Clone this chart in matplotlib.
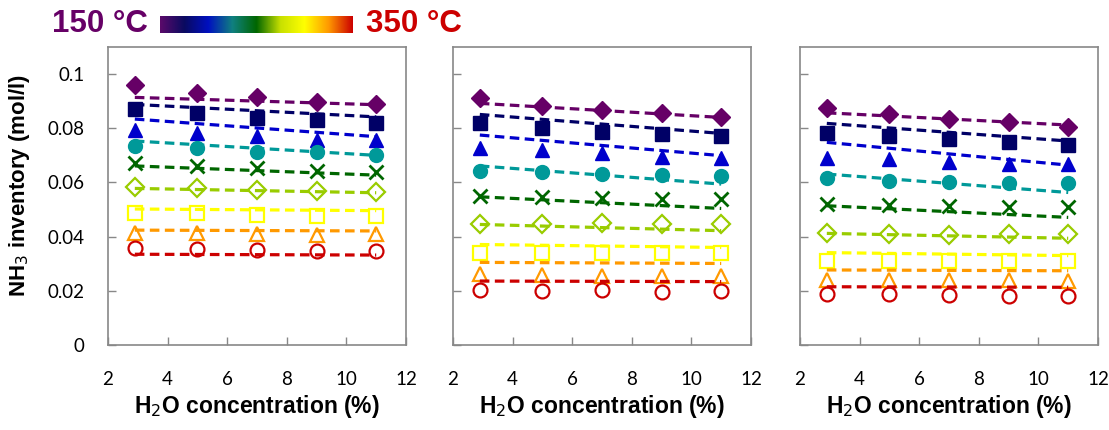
import numpy as np
import matplotlib
matplotlib.use("Agg")
import matplotlib.pyplot as plt
from matplotlib.colors import LinearSegmentedColormap

# ---------------- data ----------------
h2o = [2.9, 5, 7, 9, 11]
line_x = [2.9, 11]
temps = [150, 175, 200, 225, 250, 275, 300, 325, 350]

colors = ["#660066", "#000066", "#0000CC", "#009999", "#006600",
          "#99CC00", "#FFFF00", "#FF9900", "#CC0000"]
markers = ["D", "s", "^", "o", "x", "D", "s", "^", "o"]
filled = [True, True, True, True, True, False, False, False, False]

# measured NH3 inventory (mol/l), one list per temperature, panel 1..3
panel1 = [
    [0.0959, 0.0932, 0.0916, 0.0898, 0.0889],
    [0.0871, 0.0855, 0.0839, 0.0830, 0.0819],
    [0.0793, 0.0781, 0.0771, 0.0756, 0.0755],
    [0.0736, 0.0726, 0.0713, 0.0711, 0.0701],
    [0.0670, 0.0661, 0.0652, 0.0642, 0.0640],
    [0.0584, 0.0578, 0.0572, 0.0570, 0.0563],
    [0.0488, 0.0486, 0.0480, 0.0476, 0.0476],
    [0.0412, 0.0412, 0.0410, 0.0406, 0.0410],
    [0.0357, 0.0353, 0.0351, 0.0348, 0.0348],
]
panel2 = [
    [0.0910, 0.0883, 0.0867, 0.0855, 0.0840],
    [0.0818, 0.0800, 0.0785, 0.0779, 0.0771],
    [0.0726, 0.0720, 0.0707, 0.0695, 0.0691],
    [0.0642, 0.0640, 0.0630, 0.0627, 0.0624],
    [0.0550, 0.0547, 0.0544, 0.0538, 0.0538],
    [0.0447, 0.0445, 0.0449, 0.0447, 0.0447],
    [0.0341, 0.0341, 0.0341, 0.0341, 0.0341],
    [0.0261, 0.0258, 0.0255, 0.0255, 0.0255],
    [0.0203, 0.0199, 0.0203, 0.0197, 0.0199],
]
panel3 = [
    [0.0873, 0.0852, 0.0833, 0.0824, 0.0803],
    [0.0784, 0.0771, 0.0759, 0.0750, 0.0738],
    [0.0692, 0.0685, 0.0677, 0.0668, 0.0667],
    [0.0615, 0.0606, 0.0603, 0.0599, 0.0597],
    [0.0520, 0.0517, 0.0514, 0.0510, 0.0510],
    [0.0412, 0.0408, 0.0406, 0.0410, 0.0410],
    [0.0311, 0.0311, 0.0311, 0.0311, 0.0311],
    [0.0240, 0.0240, 0.0240, 0.0240, 0.0238],
    [0.0187, 0.0187, 0.0185, 0.0181, 0.0181],
]
# model lines (value at start / end of H2O range)
model1 = [
    [0.0914, 0.0887], [0.0888, 0.0842], [0.0834, 0.0769], [0.0753, 0.0700],
    [0.0661, 0.0627], [0.0578, 0.0562], [0.0502, 0.0496], [0.0424, 0.0421],
    [0.0335, 0.0332],
]
model2 = [
    [0.0892, 0.0840], [0.0851, 0.0781], [0.0775, 0.0699], [0.0661, 0.0594],
    [0.0547, 0.0504], [0.0445, 0.0422], [0.0371, 0.0360], [0.0305, 0.0301],
    [0.0236, 0.0234],
]
model3 = [
    [0.0857, 0.0812], [0.0818, 0.0753], [0.0748, 0.0664], [0.0631, 0.0563],
    [0.0514, 0.0471], [0.0412, 0.0394], [0.0341, 0.0330], [0.0277, 0.0274],
    [0.0215, 0.0213],
]
yticks = [0, 0.02, 0.04, 0.06, 0.08, 0.1]
ytick_labels = ["0", "0.02", "0.04", "0.06", "0.08", "0.1"]
xticks = [2, 4, 6, 8, 10, 12]

# ---------------- figure ----------------
W, H = 1109, 430
fig = plt.figure(figsize=(W / 100, H / 100), dpi=100)

tick_font = ["Lato", "Liberation Sans", "DejaVu Sans"]
bold_font = ["Liberation Sans", "DejaVu Sans"]
spine_col = "#888888"

lefts = [108, 453, 800]
ax_w, ax_bottom, ax_top = 298, 345, 47

panels = [(panel1, model1), (panel2, model2), (panel3, model3)]
for i, (vals, model) in enumerate(panels):
    ax = fig.add_axes([lefts[i] / W, (H - ax_bottom) / H, ax_w / W,
                       (ax_bottom - ax_top) / H])
    for k in range(len(temps)):
        c = colors[k]
        m = markers[k]
        ms = 9 if m == "D" else 10
        if m == "x":
            ax.plot(h2o, vals[k], linestyle="none", marker="x", ms=10,
                    mew=2, color=c, zorder=3)
        elif filled[k]:
            ax.plot(h2o, vals[k], linestyle="none", marker=m, ms=ms,
                    mfc=c, mec=c, mew=1, zorder=3)
        else:
            ax.plot(h2o, vals[k], linestyle="none", marker=m, ms=ms,
                    mfc="none", mec=c, mew=1.6, zorder=3)
        ax.plot(line_x, model[k], linestyle=(0, (3, 1.7)), lw=2.3,
                color=c, zorder=4, solid_capstyle="butt")
    ax.set_xlim(2, 12)
    ax.set_ylim(0, 0.11)
    ax.set_xticks(xticks)
    ax.set_yticks(yticks)
    for s in ax.spines.values():
        s.set_color(spine_col)
        s.set_linewidth(1.2)
    ax.set_xticklabels([str(t) for t in xticks], family=tick_font, fontsize=13.5)
    if i == 0:
        ax.set_yticklabels(ytick_labels, family=tick_font, fontsize=13.5)
        ax.set_ylabel("NH$_3$ inventory (mol/l)", family=bold_font,
                      fontweight="bold", fontsize=16)
        ax.yaxis.set_label_coords(-0.255, 0.535)
    else:
        ax.set_yticklabels([])
    ax.set_xlabel("H$_2$O concentration (%)", family=bold_font,
                  fontweight="bold", fontsize=16.5, labelpad=3)
    ax.tick_params(axis="both", direction="in", length=6, color=spine_col,
                   width=1)
    ax.tick_params(axis="x", pad=19)
    ax.tick_params(axis="y", pad=17)

# ---------------- colour bar legend ----------------
cmap = LinearSegmentedColormap.from_list(
    "temp", ["#5a0a6a", "#0a0a60", "#0010c0", "#108080", "#006600",
             "#c8e000", "#ffff00", "#ff9900", "#cc0000"])
cax = fig.add_axes([160 / W, (H - 33) / H, 193 / W, 17 / H])
cax.imshow(np.linspace(0, 1, 256)[None, :], aspect="auto", cmap=cmap)
cax.set_axis_off()
fig.text(148 / W, (H - 24) / H, f"{temps[0]} °C", ha="right", va="center",
         color="#660066", fontsize=22.5, fontweight="bold", family=bold_font)
fig.text(366 / W, (H - 24) / H, f"{temps[-1]} °C", ha="left", va="center",
         color="#CC0000", fontsize=22.5, fontweight="bold", family=bold_font)

fig.savefig("out.png", dpi=100)
